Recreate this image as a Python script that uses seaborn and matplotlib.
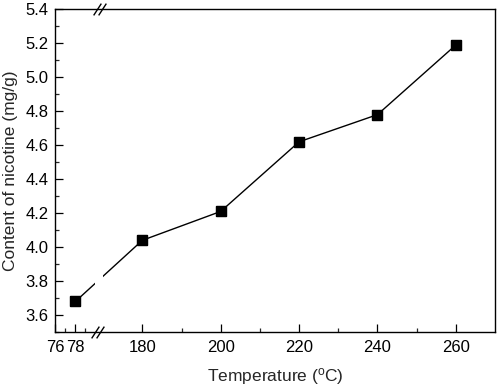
import numpy as np
import pandas as pd
import matplotlib
matplotlib.use("Agg")
import matplotlib.pyplot as plt
import matplotlib.ticker as mticker
from matplotlib.path import Path
import seaborn as sns

# ---- data ----
temperature = [78, 180, 200, 220, 240, 260]
nicotine = [3.68, 4.04, 4.21, 4.62, 4.78, 5.19]
x_major = [76, 78, 180, 200, 220, 240, 260]
x_minor = [77, 79, 190, 210, 230, 250]
x_labels = ["76", "78", "180", "200", "220", "240", "260"]
y_major = [3.6, 3.8, 4.0, 4.2, 4.4, 4.6, 4.8, 5.0, 5.2, 5.4]
y_minor = [3.5, 3.7, 3.9, 4.1, 4.3, 4.5, 4.7, 4.9, 5.1, 5.3]

sns.set_style("ticks")
plt.rcParams["font.family"] = ["Liberation Sans", "DejaVu Sans"]
plt.rcParams["mathtext.fontset"] = "custom"
plt.rcParams["mathtext.rm"] = "Liberation Sans"

# broken-axis scale: 76-80 expanded, 80-170 collapsed, 170+ linear
K = 2.548
U0 = 157.83
U1 = U0 + 4 * K
MID = (170 - U1) / 90.0

def fwd(x):
    x = np.asarray(x, dtype=float)
    return np.where(x <= 80, U0 + (x - 76) * K,
                    np.where(x >= 170, x, U1 + (x - 80) * MID))

def inv(u):
    u = np.asarray(u, dtype=float)
    return np.where(u <= U1, 76 + (u - U0) / K,
                    np.where(u >= 170, u, 80 + (u - U1) / MID))

fig = plt.figure(figsize=(4.98, 3.89), dpi=100)
ax = fig.add_axes([0.1114, 0.1465, 0.994 - 0.1114, 0.976 - 0.1465])

df = pd.DataFrame({"T": temperature, "N": nicotine})
sns.lineplot(data=df, x="T", y="N", ax=ax, color="black", linewidth=1.0,
             marker="s", markersize=7.5, markeredgecolor="black",
             markerfacecolor="black", zorder=2)

ax.set_xscale("function", functions=(fwd, inv))
ax.set_xlim(76, 270)
ax.set_ylim(3.5, 5.4)

# gap in the data line at the break
ax.axvspan(80.3, 170, color="white", zorder=2.1, lw=0)
# redraw markers on top of the mask
ax.plot(temperature, nicotine, ls="none", marker="s", markersize=7.5,
        color="black", zorder=3)

ax.set_xticks(x_major)
ax.set_xticklabels(x_labels)
ax.set_xticks(x_minor, minor=True)
ax.set_yticks(y_major)
ax.set_yticks(y_minor, minor=True)
ax.yaxis.set_major_formatter(mticker.FormatStrFormatter("%.1f"))

ax.tick_params(axis="both", which="major", direction="in", length=5.5,
               width=0.9, labelsize=12, colors="black")
ax.tick_params(axis="both", which="minor", direction="in", length=3,
               width=0.9)
ax.tick_params(axis="x", which="major", pad=6)
ax.tick_params(axis="y", which="major", pad=5)

for s in ax.spines.values():
    s.set_visible(True)
    s.set_linewidth(1.0)
    s.set_color("black")
    s.set_zorder(4)

ax.set_xlabel("Temperature ($\\mathregular{^{o}}$C)", fontsize=12.5, labelpad=8)
ax.set_ylabel("Content of nicotine (mg/g)", fontsize=12.5, labelpad=5)

# break marks "//" on bottom and top spines
fig.canvas.draw()
def frac(xd):
    return ax.transAxes.inverted().transform(ax.transData.transform((xd, 4.0)))[0]
center = 0.5 * (frac(80.3) + frac(170))
dx = 5.0 / (ax.get_window_extent().width)
slash = Path([(-0.65, -1.0), (0.65, 1.0)], [Path.MOVETO, Path.LINETO])
for yv, off in [(0.0, -0.4), (1.0, 0.0)]:
    ax.plot([center + (off - 0.5) * dx, center + (off + 0.5) * dx], [yv, yv],
            ls="none", marker=slash, markersize=8.5, markeredgewidth=1.0,
            color="black", transform=ax.transAxes, clip_on=False, zorder=5)

fig.savefig("out.png", dpi=100)
